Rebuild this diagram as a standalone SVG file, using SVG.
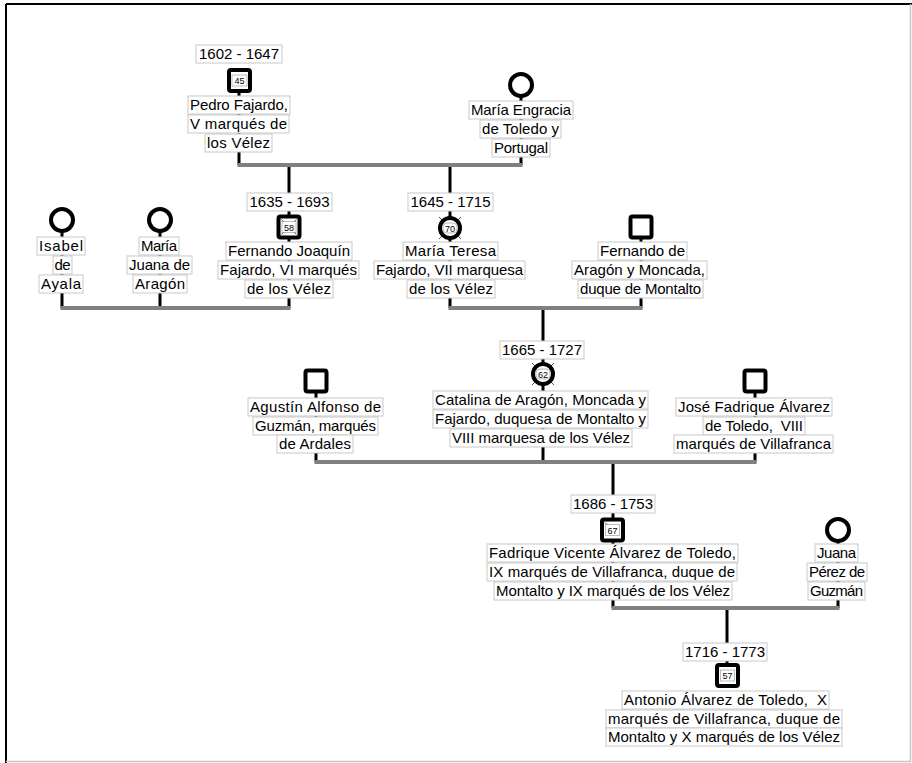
<svg xmlns="http://www.w3.org/2000/svg" width="912" height="763" viewBox="0 0 912 763">
<style>
.lb{fill:#fff;stroke:#c8c8c8;stroke-width:1}
.t{font-family:"Liberation Sans",Arial,sans-serif;font-size:15px;fill:#000;text-anchor:middle}
.n{font-family:"Liberation Sans",Arial,sans-serif;font-size:9px;fill:#000;text-anchor:middle}
.nb{fill:#fff;stroke:#bbb;stroke-width:1}
.v{stroke:#000;stroke-width:3;fill:none}
.bar{stroke:#808080;stroke-width:4;fill:none}
.sym{fill:#fff;stroke:#000;stroke-width:4}
.tick{stroke:#555;stroke-width:1}
</style>
<rect x="0" y="0" width="912" height="763" fill="#fff"/>
<g id="frame">
<line x1="6" y1="4" x2="912" y2="4" stroke="#000" stroke-width="2"/>
<line x1="6" y1="4" x2="6" y2="763" stroke="#000" stroke-width="2"/>
<line x1="910.5" y1="4" x2="910.5" y2="762" stroke="#c8c8c8" stroke-width="1.5"/>
<line x1="6" y1="761.5" x2="911" y2="761.5" stroke="#c8c8c8" stroke-width="1.5"/>
</g>
<g id="connectors">
<line class="v" x1="239" y1="80" x2="239" y2="165"/>
<line class="v" x1="521" y1="85" x2="521" y2="165"/>
<line class="v" x1="289" y1="165" x2="289" y2="308"/>
<line class="v" x1="450" y1="165" x2="450" y2="308"/>
<line class="v" x1="62" y1="220" x2="62" y2="308"/>
<line class="v" x1="160" y1="220" x2="160" y2="308"/>
<line class="v" x1="641" y1="227" x2="641" y2="308"/>
<line class="v" x1="543" y1="308" x2="543" y2="462"/>
<line class="v" x1="316" y1="381" x2="316" y2="462"/>
<line class="v" x1="755" y1="381" x2="755" y2="462"/>
<line class="v" x1="613" y1="462" x2="613" y2="608"/>
<line class="v" x1="838" y1="530" x2="838" y2="608"/>
<line class="v" x1="727" y1="608" x2="727" y2="675"/>
<line class="bar" x1="237.5" y1="165" x2="522.5" y2="165"/>
<line class="bar" x1="60.5" y1="308" x2="290.5" y2="308"/>
<line class="bar" x1="448.5" y1="308" x2="642.5" y2="308"/>
<line class="bar" x1="314.5" y1="462" x2="756.5" y2="462"/>
<line class="bar" x1="611.5" y1="608" x2="839.5" y2="608"/>
</g>
<g id="n-pedro">
<rect class="lb" x="196" y="45" width="86" height="18"/><text class="t" x="239" y="59" textLength="80" lengthAdjust="spacing">1602 - 1647</text>
<rect class="sym" x="229" y="70" width="21" height="21" rx="2"/>
<rect class="nb" x="232" y="75" width="15" height="11"/><text class="n" x="239.5" y="84">45</text>
<rect class="lb" x="188" y="96" width="102" height="18"/><text class="t" x="239" y="110" textLength="98" lengthAdjust="spacing">Pedro Fajardo,</text>
<rect class="lb" x="188" y="115" width="101" height="18"/><text class="t" x="238.5" y="129" textLength="97" lengthAdjust="spacing">V marqués de</text>
<rect class="lb" x="205" y="134" width="67" height="18"/><text class="t" x="238.5" y="148" textLength="63" lengthAdjust="spacing">los Vélez</text>
</g>
<g id="n-maria-engracia">
<circle class="sym" cx="521" cy="85" r="11"/>
<rect class="lb" x="469" y="101" width="104" height="18"/><text class="t" x="521" y="115" textLength="100" lengthAdjust="spacing">María Engracia</text>
<rect class="lb" x="480" y="120" width="81" height="18"/><text class="t" x="520.5" y="134" textLength="77" lengthAdjust="spacing">de Toledo y</text>
<rect class="lb" x="492" y="139" width="58" height="18"/><text class="t" x="521" y="153" textLength="54" lengthAdjust="spacing">Portugal</text>
</g>
<g id="n-isabel">
<circle class="sym" cx="62" cy="220" r="11"/>
<rect class="lb" x="37" y="237" width="48" height="18"/><text class="t" x="61" y="251" textLength="44" lengthAdjust="spacing">Isabel</text>
<rect class="lb" x="53" y="256" width="19" height="18"/><text class="t" x="62.5" y="270" textLength="16" lengthAdjust="spacing">de</text>
<rect class="lb" x="39" y="275" width="44" height="18"/><text class="t" x="61" y="289" textLength="40" lengthAdjust="spacing">Ayala</text>
</g>
<g id="n-maria-juana">
<circle class="sym" cx="160" cy="220" r="11"/>
<rect class="lb" x="139" y="237" width="40" height="18"/><text class="t" x="159" y="251" textLength="36" lengthAdjust="spacing">María</text>
<rect class="lb" x="127" y="256" width="65" height="18"/><text class="t" x="159.5" y="270" textLength="61" lengthAdjust="spacing">Juana de</text>
<rect class="lb" x="133" y="275" width="54" height="18"/><text class="t" x="160" y="289" textLength="50" lengthAdjust="spacing">Aragón</text>
</g>
<g id="n-fernando-joaquin">
<rect class="lb" x="247" y="193" width="85" height="18"/><text class="t" x="289.5" y="207" textLength="80" lengthAdjust="spacing">1635 - 1693</text>
<rect class="sym" x="278.5" y="216.5" width="21" height="21" rx="2"/>
<rect class="nb" x="282" y="221.5" width="14" height="11"/><text class="n" x="289" y="230.5">58</text>
<line class="tick" x1="281.5" y1="219.5" x2="283.5" y2="221.5"/><line class="tick" x1="296.5" y1="219.5" x2="294.5" y2="221.5"/>
<line class="tick" x1="281.5" y1="234.5" x2="283.5" y2="232.5"/><line class="tick" x1="296.5" y1="234.5" x2="294.5" y2="232.5"/>
<rect class="lb" x="226" y="242" width="126" height="18"/><text class="t" x="289" y="256" textLength="122" lengthAdjust="spacing">Fernando Joaquín</text>
<rect class="lb" x="218" y="261" width="141" height="18"/><text class="t" x="288.5" y="275" textLength="137" lengthAdjust="spacing">Fajardo, VI marqués</text>
<rect class="lb" x="245" y="280" width="88" height="18"/><text class="t" x="289" y="294" textLength="84" lengthAdjust="spacing">de los Vélez</text>
</g>
<g id="n-maria-teresa">
<rect class="lb" x="408" y="193" width="85" height="18"/><text class="t" x="450.5" y="207" textLength="80" lengthAdjust="spacing">1645 - 1715</text>
<line class="tick" x1="439" y1="217" x2="442" y2="220"/><line class="tick" x1="461" y1="217" x2="458" y2="220"/>
<line class="tick" x1="439" y1="239" x2="442" y2="236"/><line class="tick" x1="461" y1="239" x2="458" y2="236"/>
<circle class="sym" cx="450" cy="228" r="10"/>
<rect class="nb" x="443" y="223" width="14" height="10" rx="4"/><text class="n" x="450" y="231.5">70</text>
<rect class="lb" x="403" y="242" width="95" height="18"/><text class="t" x="450.5" y="256" textLength="91" lengthAdjust="spacing">María Teresa</text>
<rect class="lb" x="374" y="261" width="151" height="18"/><text class="t" x="449.5" y="275" textLength="147" lengthAdjust="spacing">Fajardo, VII marquesa</text>
<rect class="lb" x="407" y="280" width="88" height="18"/><text class="t" x="451" y="294" textLength="84" lengthAdjust="spacing">de los Vélez</text>
</g>
<g id="n-fernando-aragon">
<rect class="sym" x="630.5" y="216.5" width="21" height="21" rx="2"/>
<rect class="lb" x="598" y="242" width="89" height="18"/><text class="t" x="642.5" y="256" textLength="85" lengthAdjust="spacing">Fernando de</text>
<rect class="lb" x="572" y="261" width="135" height="18"/><text class="t" x="639.5" y="275" textLength="131" lengthAdjust="spacing">Aragón y Moncada,</text>
<rect class="lb" x="578" y="280" width="125" height="18"/><text class="t" x="640.5" y="294" textLength="121" lengthAdjust="spacing">duque de Montalto</text>
</g>
<g id="n-catalina">
<rect class="lb" x="500" y="341" width="84" height="18"/><text class="t" x="542" y="355" textLength="80" lengthAdjust="spacing">1665 - 1727</text>
<line class="tick" x1="532" y1="363" x2="535" y2="366"/><line class="tick" x1="554" y1="363" x2="551" y2="366"/>
<line class="tick" x1="532" y1="385" x2="535" y2="382"/><line class="tick" x1="554" y1="385" x2="551" y2="382"/>
<circle class="sym" cx="543" cy="374" r="10"/>
<rect class="nb" x="536" y="369" width="14" height="10" rx="4"/><text class="n" x="543" y="377.5">62</text>
<rect class="lb" x="433" y="391" width="215" height="18"/><text class="t" x="540.5" y="405" textLength="211" lengthAdjust="spacing">Catalina de Aragón, Moncada y</text>
<rect class="lb" x="433" y="410" width="215" height="18"/><text class="t" x="540.5" y="424" textLength="211" lengthAdjust="spacing">Fajardo, duquesa de Montalto y</text>
<rect class="lb" x="450" y="429" width="182" height="18"/><text class="t" x="541" y="443" textLength="178" lengthAdjust="spacing">VIII marquesa de los Vélez</text>
</g>
<g id="n-agustin">
<rect class="sym" x="305.5" y="370.5" width="21" height="21" rx="2"/>
<rect class="lb" x="248" y="398" width="135" height="18"/><text class="t" x="315.5" y="412" textLength="131" lengthAdjust="spacing">Agustín Alfonso de</text>
<rect class="lb" x="253" y="417" width="125" height="18"/><text class="t" x="315.5" y="431" textLength="121" lengthAdjust="spacing">Guzmán, marqués</text>
<rect class="lb" x="277" y="435" width="76" height="18"/><text class="t" x="315" y="449" textLength="72" lengthAdjust="spacing">de Ardales</text>
</g>
<g id="n-jose-fadrique">
<rect class="sym" x="744.5" y="370.5" width="21" height="21" rx="2"/>
<rect class="lb" x="676" y="398" width="156" height="18"/><text class="t" x="754" y="412" textLength="152" lengthAdjust="spacing">José Fadrique Álvarez</text>
<rect class="lb" x="703" y="417" width="102" height="18"/><text class="t" x="754" y="431" textLength="98" lengthAdjust="spacing" xml:space="preserve">de Toledo,  VIII</text>
<rect class="lb" x="674" y="435" width="159" height="18"/><text class="t" x="753.5" y="449" textLength="155" lengthAdjust="spacing">marqués de Villafranca</text>
</g>
<g id="n-fadrique-vicente">
<rect class="lb" x="571" y="495" width="84" height="18"/><text class="t" x="613" y="509" textLength="80" lengthAdjust="spacing">1686 - 1753</text>
<rect class="sym" x="602" y="519.5" width="21" height="21" rx="2"/>
<rect class="nb" x="605.5" y="524.5" width="14" height="11"/><text class="n" x="612.5" y="533.5">67</text>
<line class="tick" x1="605" y1="522.5" x2="607" y2="524.5"/>
<rect class="lb" x="487" y="544" width="251" height="18"/><text class="t" x="612.5" y="558" textLength="247" lengthAdjust="spacing">Fadrique Vicente Álvarez de Toledo,</text>
<rect class="lb" x="487" y="563" width="250" height="18"/><text class="t" x="612" y="577" textLength="246" lengthAdjust="spacing">IX marqués de Villafranca, duque de</text>
<rect class="lb" x="494" y="582" width="238" height="18"/><text class="t" x="613" y="596" textLength="234" lengthAdjust="spacing">Montalto y IX marqués de los Vélez</text>
</g>
<g id="n-juana-perez">
<circle class="sym" cx="838" cy="530" r="11"/>
<rect class="lb" x="815" y="544" width="43" height="18"/><text class="t" x="836.5" y="558" textLength="39" lengthAdjust="spacing">Juana</text>
<rect class="lb" x="807" y="563" width="60" height="18"/><text class="t" x="837" y="577" textLength="56" lengthAdjust="spacing">Pérez de</text>
<rect class="lb" x="808" y="582" width="57" height="18"/><text class="t" x="836.5" y="596" textLength="53" lengthAdjust="spacing">Guzmán</text>
</g>
<g id="n-antonio">
<rect class="lb" x="683" y="643" width="84" height="18"/><text class="t" x="725" y="657" textLength="80" lengthAdjust="spacing">1716 - 1773</text>
<rect class="sym" x="717" y="665" width="21" height="21" rx="2"/>
<rect class="nb" x="720.5" y="670" width="14" height="11"/><text class="n" x="727.5" y="679">57</text>
<rect class="lb" x="622" y="691" width="207" height="18"/><text class="t" x="725.5" y="705" textLength="203" lengthAdjust="spacing" xml:space="preserve">Antonio Álvarez de Toledo,  X</text>
<rect class="lb" x="606" y="710" width="236" height="18"/><text class="t" x="724" y="724" textLength="232" lengthAdjust="spacing">marqués de Villafranca, duque de</text>
<rect class="lb" x="606" y="728" width="236" height="18"/><text class="t" x="724" y="742" textLength="232" lengthAdjust="spacing">Montalto y X marqués de los Vélez</text>
</g>
</svg>
